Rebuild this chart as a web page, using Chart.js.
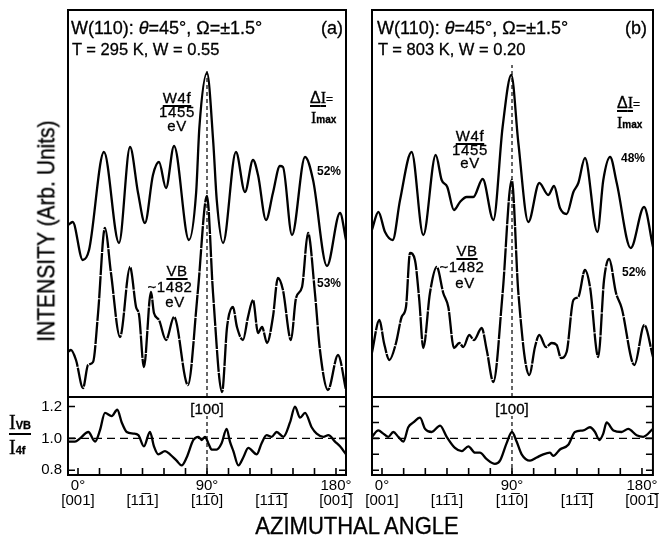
<!DOCTYPE html>
<html>
<head>
<meta charset="utf-8">
<script src="https://cdn.jsdelivr.net/npm/chart.js@4.4.0/dist/chart.umd.min.js"></script>
<style>
  body { margin: 0; background: #fff; }
  #wrap { position: relative; width: 662px; height: 538px; overflow: hidden; font-family: 'Liberation Sans', Arial, sans-serif; color: #000; }
  canvas { position: absolute; left: 0; top: 0; pointer-events: none; }
  .t { position: absolute; white-space: nowrap; line-height: 1; -webkit-text-stroke: 0.3px #000; }
  .c { transform: translateX(-50%); }
  .ann { font-size: 15px; letter-spacing: 0.6px; }
  .u { text-decoration: underline; text-decoration-thickness: 1.6px; text-underline-offset: 2px; }
  .pct { font-size: 12px; font-weight: bold; -webkit-text-stroke: 0; }
  .serif { font-family: 'Liberation Serif', serif; }
</style>
</head>
<body>
<div id="wrap">
  <canvas id="upperA" width="662" height="538"></canvas>
  <canvas id="lowerA" width="662" height="538"></canvas>
  <canvas id="upperB" width="662" height="538"></canvas>
  <canvas id="lowerB" width="662" height="538"></canvas>

  <!-- panel (a) text -->
  <div class="t" style="left:71px;top:19px;font-size:18px">W(110): <i>θ</i>=45°, Ω=±1.5°</div>
  <div class="t" style="left:72px;top:41px;font-size:16.5px">T = 295 K, W = 0.55</div>
  <div class="t" style="left:321px;top:19px;font-size:18px">(a)</div>
  <div class="t c ann u" style="left:177px;top:90px">W4f</div>
  <div class="t c ann" style="left:177px;top:104px">1455</div>
  <div class="t c ann" style="left:177px;top:118px">eV</div>
  <div class="t" style="left:310px;top:90px;font-size:16px"><span class="u">Δ<span class="serif">I</span></span><span style="font-size:12px">=</span></div>
  <div class="t" style="left:311px;top:110px;font-size:16px"><span class="serif">I</span><span style="font-size:10px;font-weight:bold">max</span></div>
  <div class="t pct" style="left:317px;top:165px">52%</div>
  <div class="t c ann u" style="left:177px;top:263px">VB</div>
  <div class="t c ann" style="left:170px;top:279px">~1482</div>
  <div class="t c ann" style="left:175px;top:294px">eV</div>
  <div class="t pct" style="left:317px;top:277px">53%</div>
  <div class="t c" style="left:207px;top:401px;font-size:15px;background:#fff;padding:0 2px">[100]</div>

  <!-- panel (b) text -->
  <div class="t" style="left:377px;top:19px;font-size:18px">W(110): <i>θ</i>=45°, Ω=±1.5°</div>
  <div class="t" style="left:378px;top:41px;font-size:16.5px">T = 803 K, W = 0.20</div>
  <div class="t" style="left:625px;top:19px;font-size:18px">(b)</div>
  <div class="t c ann u" style="left:470px;top:128px">W4f</div>
  <div class="t c ann" style="left:470px;top:142px">1455</div>
  <div class="t c ann" style="left:470px;top:155px">eV</div>
  <div class="t" style="left:617px;top:95px;font-size:16px"><span class="u">Δ<span class="serif">I</span></span><span style="font-size:12px">=</span></div>
  <div class="t" style="left:617px;top:115px;font-size:16px"><span class="serif">I</span><span style="font-size:10px;font-weight:bold">max</span></div>
  <div class="t pct" style="left:621px;top:152px">48%</div>
  <div class="t c ann u" style="left:467px;top:243px">VB</div>
  <div class="t c ann" style="left:462px;top:259px">~1482</div>
  <div class="t c ann" style="left:465px;top:275px">eV</div>
  <div class="t pct" style="left:622px;top:266px">52%</div>
  <div class="t c" style="left:512px;top:401px;font-size:15px;background:#fff;padding:0 2px">[100]</div>

  <!-- shared axis text -->
  <div class="t" style="left:46px;top:231px;font-size:21px;transform:translate(-50%,-50%) rotate(-90deg) scaleY(1.1)">INTENSITY (Arb. Units)</div>
  <div class="t" style="left:9px;top:412px">
    <div style="border-bottom:2px solid #000;padding-bottom:1px"><span class="serif" style="font-size:20px">I</span><span style="font-size:11px;font-weight:bold">VB</span></div>
    <div style="margin-top:2px"><span class="serif" style="font-size:20px">I</span><span style="font-size:11px;font-weight:bold">4f</span></div>
  </div>
  <div class="t" style="left:357px;top:526px;font-size:22px;transform:translate(-50%,-50%) scaleY(1.12)">AZIMUTHAL ANGLE</div>
</div>

<script>
// ---------- panel (a): T = 295 K ----------
const w4fAngleA = [-7.0, -3.7, 3.3, 7.7, 18.1, 28.6, 36.3, 41.9, 46.7, 52.3, 56.5, 61.4, 67.0, 77.4, 82.4, 84.7, 90.0, 94.4, 96.8, 101.2, 110.2, 116.5, 122.1, 125.6, 131.2, 136.0, 140.9, 143.0, 149.3, 158.4, 164.0, 173.7, 182.8, 187.0];
const w4fA      = [172, 175, 137, 147, 245, 154, 250, 204, 174, 222, 235, 209, 251, 157, 204, 270, 324, 254, 197, 154, 245, 205, 237, 222, 177, 204, 231, 230, 162, 240, 217, 131, 184, 157];

const vbAngleA = [-7.0, -4.9, -1.4, 3.5, 7.0, 10.5, 14.0, 18.8, 23.0, 29.3, 36.3, 40.5, 42.6, 46.0, 50.9, 53.0, 56.5, 61.4, 67.0, 76.7, 83.5, 90.0, 94.2, 100.5, 104.0, 108.1, 110.9, 115.1, 118.6, 122.1, 125.6, 128.4, 131.9, 136.0, 139.5, 143.0, 148.6, 152.1, 156.3, 160.5, 165.3, 168.8, 174.4, 181.4, 187.0];
const vbA      = [45, 47, 37, 9, 32, 35, 84, 169, 124, 60, 130, 90, 82, 30, 105, 84, 77, 57, 80, 12, 104, 201, 104, 5, 70, 90, 70, 57, 80, 97, 64, 70, 54, 80, 119, 107, 57, 99, 110, 164, 104, 47, 7, 42, 7];

const ratioAngleA = [-7.0, -2.1, 1.4, 7.2, 11.9, 15.3, 18.8, 23.5, 27.4, 30.5, 34.0, 38.6, 42.1, 46.0, 50.2, 53.0, 56.0, 60.7, 64.2, 68.8, 72.3, 75.8, 80.5, 84.0, 86.3, 88.6, 90.9, 93.3, 96.7, 100.2, 103.7, 106.0, 108.4, 111.9, 115.3, 118.8, 124.7, 128.1, 131.6, 135.1, 138.6, 143.3, 147.9, 151.4, 154.9, 158.4, 163.0, 166.5, 171.2, 174.7, 179.3, 182.8, 187.0];
const ratioA      = [0.98, 0.98, 1.0, 1.04, 0.98, 1.05, 1.16, 1.14, 1.18, 1.10, 1.04, 1.03, 1.02, 0.95, 1.04, 0.95, 0.90, 0.92, 0.90, 0.86, 0.83, 0.88, 0.99, 1.01, 0.99, 1.01, 0.97, 0.93, 0.93, 0.97, 1.06, 0.98, 0.92, 0.83, 0.88, 0.94, 0.90, 0.97, 1.02, 1.01, 1.04, 1.01, 1.10, 1.20, 1.13, 1.16, 1.07, 1.03, 1.01, 1.02, 0.98, 0.95, 0.90];

// ---------- panel (b): T = 803 K ----------
const w4fAngleB = [-7.0, -2.5, 2.1, 7.4, 12.5, 20.5, 28.6, 37.2, 41.3, 45.2, 49.8, 54.0, 58.6, 63.2, 69.7, 77.1, 83.5, 89.5, 94.4, 101.3, 108.9, 115.1, 119.1, 123.2, 127.8, 132.5, 135.9, 140.5, 149.1, 153.2, 157.9, 162.5, 172.2, 181.4, 187.6];
const w4fB      = [167, 185, 165, 157, 197, 245, 162, 242, 217, 210, 187, 195, 200, 200, 218, 177, 270, 322, 254, 175, 214, 202, 211, 189, 183, 205, 214, 239, 165, 217, 240, 214, 149, 190, 150];

const vbAngleB = [-7.0, -1.8, 1.4, 5.1, 9.7, 13.6, 16.6, 19.4, 22.8, 25.8, 28.6, 33.2, 37.9, 42.4, 45.9, 49.8, 53.5, 56.3, 60.4, 63.7, 69.0, 72.5, 77.1, 83.5, 89.8, 94.4, 102.0, 105.9, 108.9, 113.5, 117.5, 120.9, 123.9, 127.8, 132.5, 135.9, 140.5, 144.0, 149.7, 153.7, 157.2, 162.0, 165.9, 174.7, 181.6, 187.6];
const vbB      = [44, 77, 54, 37, 54, 80, 90, 144, 137, 97, 49, 104, 130, 104, 90, 49, 54, 50, 62, 57, 69, 47, 15, 104, 217, 104, 22, 50, 62, 50, 54, 52, 39, 45, 97, 100, 127, 110, 40, 117, 138, 104, 89, 32, 72, 40];

const ratioAngleB = [-7.0, -2.5, 0.9, 4.4, 7.8, 11.3, 14.8, 18.2, 21.7, 26.3, 29.8, 34.4, 40.2, 44.8, 50.5, 55.2, 59.8, 64.4, 67.8, 72.5, 78.2, 81.7, 86.3, 90.0, 93.2, 96.7, 102.5, 107.1, 111.7, 116.3, 118.6, 123.2, 129.0, 133.6, 139.4, 144.0, 147.5, 150.5, 153.2, 155.5, 160.2, 165.9, 170.5, 176.3, 180.9, 187.6];
const ratioB      = [1.01, 1.05, 1.03, 1.01, 1.04, 1.01, 0.98, 1.07, 1.10, 1.13, 1.06, 1.04, 1.08, 1.01, 0.94, 0.92, 0.95, 0.91, 0.91, 0.87, 0.84, 0.86, 0.97, 1.04, 0.98, 0.90, 0.86, 0.88, 0.90, 0.91, 0.89, 0.93, 0.96, 1.04, 1.05, 1.07, 1.04, 0.99, 1.03, 1.10, 1.05, 1.04, 1.06, 1.02, 1.01, 1.06];

// ---------- axes / ticks ----------
const xTickAngles = [0, 15, 30, 45, 60, 75, 90, 105, 120, 135, 150, 165, 180];
const xLabelAngles = [0, 45, 90, 135, 180];
const xLabelDeg = ['0°', '', '90°', '', '180°'];
const xLabelDir = ['[001]', '[11\u03051]', '[11\u03050]', '[11\u03051\u0305]', '[001\u0305]'];
const yTickRatios = [0.8, 0.9, 1.0, 1.1, 1.2];
const refAngle = 90;        // [100] direction
const refRatio = 1.0;
const refTopA = 329, refTopB = 332;

Chart.defaults.font.family = "'Liberation Sans', Arial, sans-serif";
Chart.defaults.color = '#000';

// frame round the plot area, with short inward ticks on the ratio plots
const framePlugin = {
  id: 'frame',
  afterDatasetsDraw(chart, args, opts) {
    const { ctx, chartArea: a } = chart;
    ctx.save();
    ctx.strokeStyle = '#000';
    ctx.lineWidth = 2;
    ctx.strokeRect(a.left, a.top, a.right - a.left, a.bottom - a.top);
    if (opts.innerTicks) {
      const xs = chart.scales.x, ys = chart.scales.y;
      ctx.lineWidth = 1.6;
      ctx.beginPath();
      xs.ticks.forEach(t => {
        const px = xs.getPixelForValue(t.value);
        ctx.moveTo(px, a.bottom); ctx.lineTo(px, a.bottom - 7);
      });
      ys.ticks.forEach(t => {
        const py = ys.getPixelForValue(t.value);
        ctx.moveTo(a.left, py); ctx.lineTo(a.left + 7, py);
        ctx.moveTo(a.right, py); ctx.lineTo(a.right - 7, py);
      });
      ctx.stroke();
    }
    ctx.restore();
  }
};

function pts(xs, ys) { return xs.map((x, i) => ({ x, y: ys[i] })); }

function curve(xs, ys, dash) {
  return {
    data: pts(xs, ys),
    borderColor: '#000',
    borderWidth: 2.3,
    borderDash: dash || [],
    pointRadius: 0,
    fill: false,
    cubicInterpolationMode: 'monotone'
  };
}

function refLine(data, dash) {
  return { data, borderColor: '#000', borderWidth: 1.2, borderDash: dash, pointRadius: 0, fill: false, tension: 0 };
}

function upperChart(id, xMin, xMax, w4fX, w4fY, vbX, vbY, refTop, padding) {
  return new Chart(document.getElementById(id), {
    type: 'line',
    data: {
      datasets: [
        curve(w4fX, w4fY),
        curve(vbX, vbY, [22, 1]),
        refLine([{ x: refAngle, y: 0 }, { x: refAngle, y: refTop }], [4, 3])
      ]
    },
    options: {
      responsive: false,
      animation: false,
      events: [],
      layout: { padding },
      plugins: { legend: { display: false }, tooltip: { enabled: false }, frame: { innerTicks: false } },
      scales: {
        x: { type: 'linear', min: xMin, max: xMax, display: false },
        y: { min: 0, max: 387, display: false }
      }
    },
    plugins: [framePlugin]
  });
}

function lowerChart(id, xMin, xMax, rX, rY, showY, padding) {
  return new Chart(document.getElementById(id), {
    type: 'line',
    data: {
      datasets: [
        curve(rX, rY),
        refLine([{ x: xMin, y: refRatio }, { x: xMax, y: refRatio }], [8, 5]),
        refLine([{ x: refAngle, y: 0.77 }, { x: refAngle, y: 1.26 }], [4, 3])
      ]
    },
    options: {
      responsive: false,
      animation: false,
      events: [],
      layout: { padding },
      plugins: { legend: { display: false }, tooltip: { enabled: false }, frame: { innerTicks: true } },
      scales: {
        x: {
          type: 'linear', min: xMin, max: xMax,
          afterBuildTicks: s => { s.ticks = xTickAngles.map(v => ({ value: v })); },
          afterFit: s => { s.height = 45; },
          grid: { display: false, drawTicks: false },
          border: { display: false },
          ticks: {
            autoSkip: false, maxRotation: 0, padding: 3,
            font: { size: 15, lineHeight: 1 },
            callback: v => {
              const i = xLabelAngles.indexOf(v);
              return i < 0 ? '' : [xLabelDeg[i], xLabelDir[i]];
            }
          }
        },
        y: {
          min: 0.77, max: 1.26,
          afterBuildTicks: s => { s.ticks = yTickRatios.map(v => ({ value: v })); },
          afterFit: s => { s.width = 40; },
          grid: { display: false, drawTicks: false },
          border: { display: false },
          ticks: {
            display: showY, padding: 6,
            font: { size: 15 },
            callback: (v, i) => (i % 2 === 0 ? v.toFixed(1) : '')
          }
        }
      }
    },
    plugins: [framePlugin]
  });
}

upperChart('upperA', -6.98, 186.98, w4fAngleA, w4fA, vbAngleA, vbA, refTopA, { left: 68, right: 316, top: 10, bottom: 141 });
lowerChart('lowerA', -6.98, 186.98, ratioAngleA, ratioA, true, { left: 28, right: 316, top: 397, bottom: 18 });
upperChart('upperB', -6.92, 187.6, w4fAngleB, w4fB, vbAngleB, vbB, refTopB, { left: 372, right: 9, top: 10, bottom: 141 });
lowerChart('lowerB', -6.92, 187.6, ratioAngleB, ratioB, false, { left: 332, right: 9, top: 397, bottom: 18 });
</script>
</body>
</html>
